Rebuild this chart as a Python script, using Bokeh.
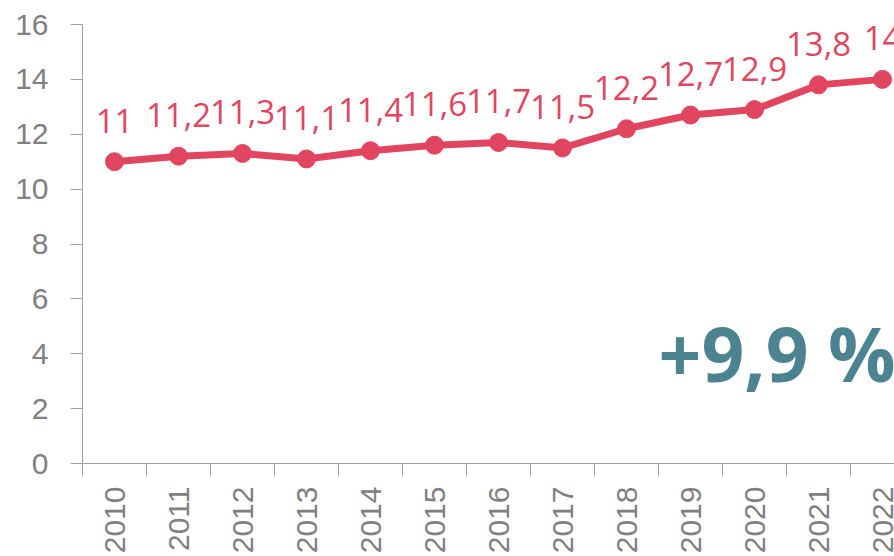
import math
from bokeh.plotting import figure
from bokeh.models import ColumnDataSource, Range1d, FixedTicker, Label
from bokeh.core.properties import value
from bokeh.embed import file_html
from bokeh.resources import INLINE

years = [2010, 2011, 2012, 2013, 2014, 2015, 2016, 2017, 2018, 2019, 2020, 2021, 2022]
values = [11.0, 11.2, 11.3, 11.1, 11.4, 11.6, 11.7, 11.5, 12.2, 12.7, 12.9, 13.8, 14.0]
labels = [f"{v:g}".replace(".", ",") for v in values]
y_ticks = [0, 2, 4, 6, 8, 10, 12, 14, 16]
change_text = "+9,9 %"

RED = "#e2455f"
TEAL = "#4b8490"
GREY = "#808080"

src = ColumnDataSource(dict(x=years, y=values, label=labels))

p = figure(width=894, height=556, output_backend="svg", toolbar_location=None,
           x_range=Range1d(years[0] - 0.5, years[0] - 0.5 + 812 / 64),
           y_range=Range1d(0, 16),
           min_border_left=82, min_border_top=24, min_border_right=0, min_border_bottom=91)
p.outline_line_color = None
p.grid.visible = False
p.background_fill_color = "white"

p.line("x", "y", source=src, line_color=RED, line_width=7, line_join="round")
p.scatter("x", "y", source=src, size=18, fill_color=RED, line_color=RED)
p.text("x", "y", text="label", source=src, text_color=RED,
       text_font=value("Open Sans"), text_font_size="33px",
       text_align="center", text_baseline="alphabetic", y_offset=-41)

p.add_layout(Label(x=2018.5, y=4.02, text=change_text, text_color=TEAL,
                   text_font="Open Sans", text_font_style="bold",
                   text_font_size="75px", text_baseline="alphabetic"))

# y axis
ya = p.yaxis[0]
ya.ticker = FixedTicker(ticks=y_ticks, minor_ticks=[])
ya.axis_line_color = "#a0a0a0"
ya.major_tick_line_color = "#a0a0a0"
ya.major_tick_out = 12
ya.major_tick_in = 0
ya.minor_tick_line_color = None
ya.major_label_standoff = 22
ya.major_label_text_font = "Liberation Sans"
ya.major_label_text_font_size = "30px"
ya.major_label_text_color = GREY

# x axis
xa = p.xaxis[0]
xa.ticker = FixedTicker(ticks=years, minor_ticks=[y - 0.5 for y in years])
xa.axis_line_color = "#a0a0a0"
xa.major_tick_line_color = None
xa.major_tick_out = 12
xa.major_tick_in = 0
xa.minor_tick_line_color = "#a0a0a0"
xa.minor_tick_out = 12
xa.minor_tick_in = 0
xa.major_label_standoff = 11
xa.major_label_orientation = math.pi / 2
xa.major_label_text_font = "Liberation Sans"
xa.major_label_text_font_size = "30px"
xa.major_label_text_color = GREY

open("out.html", "w").write(file_html(p, INLINE))
